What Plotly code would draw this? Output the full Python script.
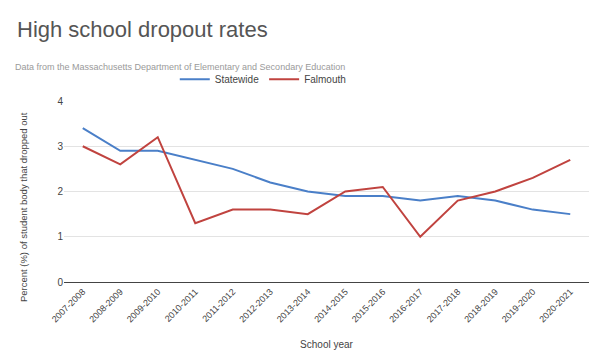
import plotly.graph_objects as go

years = ["2007-2008", "2008-2009", "2009-2010", "2010-2011", "2011-2012", "2012-2013",
         "2013-2014", "2014-2015", "2015-2016", "2016-2017", "2017-2018", "2018-2019",
         "2019-2020", "2020-2021"]
statewide = [3.4, 2.9, 2.9, 2.7, 2.5, 2.2, 2.0, 1.9, 1.9, 1.8, 1.9, 1.8, 1.6, 1.5]
falmouth = [3.0, 2.6, 3.2, 1.3, 1.6, 1.6, 1.5, 2.0, 2.1, 1.0, 1.8, 2.0, 2.3, 2.7]

fig = go.Figure()
fig.add_trace(go.Scatter(x=years, y=statewide, mode="lines", name="Statewide",
                         line=dict(color="#4a7fc8", width=2)))
fig.add_trace(go.Scatter(x=years, y=falmouth, mode="lines", name="Falmouth",
                         line=dict(color="#c0433f", width=2)))

fig.update_layout(
    width=600, height=363,
    margin=dict(l=56, r=19, t=93, b=89, autoexpand=False),
    paper_bgcolor="white", plot_bgcolor="white",
    font=dict(family="Arial, Liberation Sans, sans-serif", color="#444"),
    title=dict(text="High school dropout rates", x=0.015, xanchor="left",
               y=0.94, yanchor="middle", font=dict(size=22, color="#555")),
    annotations=[
        dict(text="Data from the Massachusetts Department of Elementary and Secondary Education",
             xref="paper", yref="paper", x=-0.097, y=1.188, xanchor="left", yanchor="middle",
             showarrow=False, font=dict(size=9, color="#9a9a9a")),
        dict(text="Percent (%) of student body that dropped out",
             xref="paper", yref="paper", x=-0.078, y=0.414, xanchor="center", yanchor="middle",
             textangle=-90, showarrow=False, font=dict(size=9.5, color="#444")),
    ],
    legend=dict(orientation="h", x=0.211, y=1.12, xanchor="left", yanchor="middle",
                font=dict(size=10, color="#444"), itemwidth=30, bgcolor="rgba(0,0,0,0)"),
    showlegend=True,
)
fig.update_xaxes(type="category", range=[-0.5, 13.5], tickangle=-45, automargin=False,
                 tickfont=dict(size=9, color="#444"), showgrid=False,
                 showline=True, linecolor="#444", linewidth=1,
                 title=dict(text="School year", font=dict(size=10, color="#444"), standoff=17))
fig.update_yaxes(range=[0, 4], dtick=1, showgrid=True, gridcolor="#e3e3e3", automargin=False,
                 zeroline=False, tickfont=dict(size=10, color="#444"))

fig.write_html("out.html")
